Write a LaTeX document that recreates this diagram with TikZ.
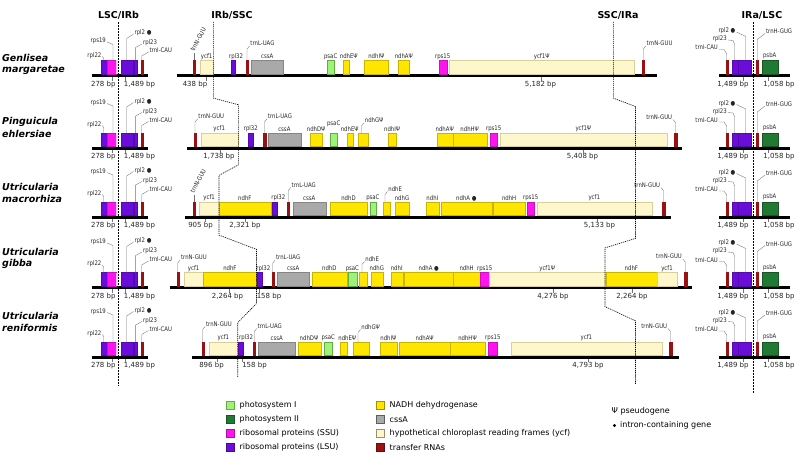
\documentclass[tikz,border=0pt]{standalone}
\usepackage{fontspec}
\setmainfont{DejaVu Sans}[BoldFont={DejaVu Sans Bold},ItalicFont={DejaVu Sans Oblique},BoldItalicFont={DejaVu Sans Bold Oblique}]
\newfontfamily\glabfont{DejaVu Sans}[FakeStretch=0.85]
\definecolor{cPSI}{HTML}{A0F07C}
\definecolor{cPSIb}{HTML}{5FAE3E}
\definecolor{cPSII}{HTML}{217A33}
\definecolor{cSSU}{HTML}{FF14F0}
\definecolor{cLSU}{HTML}{6A0DD8}
\definecolor{cNADH}{HTML}{FFE600}
\definecolor{cNADHb}{HTML}{C9B400}
\definecolor{cCSS}{HTML}{A9A9A9}
\definecolor{cCSSb}{HTML}{858585}
\definecolor{cYCF}{HTML}{FFF7CC}
\definecolor{cYCFb}{HTML}{D8CF9C}
\definecolor{cTRN}{HTML}{9B1111}
\tikzset{
 chrom/.style={line width=3pt},
 gbx/.style={line width=0.35pt},
 nadh/.style={gbx,fill=cNADH,draw=cNADHb},
 css/.style={gbx,fill=cCSS,draw=cCSSb},
 ycf/.style={gbx,fill=cYCF,draw=cYCFb},
 psi/.style={gbx,fill=cPSI,draw=cPSIb},
 psii/.style={gbx,fill=cPSII,draw=cPSII!70!black},
 ssu/.style={gbx,fill=cSSU,draw=cSSU!80!black},
 lsu/.style={gbx,fill=cLSU,draw=cLSU!80!black},
 trn/.style={gbx,fill=cTRN,draw=cTRN},
 glab/.style={font=\glabfont\fontsize{6.3}{7}\selectfont,inner sep=0.4pt,text=black!85},
 bplab/.style={font=\fontsize{7}{8}\selectfont,inner sep=0.4pt,text=black!85},
 leadln/.style={draw=black!55,line width=0.35pt},
 junc/.style={line width=0.6pt,dash pattern=on 1.2pt off 0.9pt},
 juncB/.style={line width=0.9pt,dash pattern=on 1.8pt off 1.2pt},
 head/.style={font=\fontsize{9.5}{11}\selectfont\bfseries},
 spec/.style={font=\fontsize{9.5}{11}\selectfont\bfseries\itshape,anchor=west,inner sep=0pt},
 legt/.style={font=\fontsize{8}{9.5}\selectfont,anchor=west,inner sep=0.5pt},
 legb/.style={line width=0.5pt},
}
\newcount\nid
\newcommand\nxt{\global\advance\nid by 1 }
% gene box with centred label
\newcommand\gb[5]{%
 \draw[#1] (#2,#4-15) rectangle (#3,#4-1.5);
 \ifx\relax#5\relax\else
 \nxt\node[glab] (n\the\nid) at ({(#2+#3)/2},#4-19) {#5};
 \fi}
% gene box with label at custom height
\newcommand\gbh[6]{%
 \draw[#1] (#2,#4-15) rectangle (#3,#4-1.5);
 \nxt\node[glab] (n\the\nid) at ({(#2+#3)/2},#4-#6) {#5};}
% gene box with label at custom x
\newcommand\gbo[6]{%
 \draw[#1] (#2,#4-15) rectangle (#3,#4-1.5);
 \nxt\node[glab] (n\the\nid) at (#6,#4-19) {#5};}
% leader label, text to the right
\newcommand\ldR[4]{%
 \draw[leadln] (#1,#2-15) -- (#1,#2-#4+3.5) -- (#1+2.5,#2-#4+0.5);
 \nxt\node[glab,anchor=base west] (n\the\nid) at (#1+2.8,#2-#4) {#3};}
% leader label, text to the left
\newcommand\ldL[4]{%
 \draw[leadln] (#1,#2-15) -- (#1,#2-#4+3.5) -- (#1-2.5,#2-#4+0.5);
 \nxt\node[glab,anchor=base east] (n\the\nid) at (#1-2.8,#2-#4) {#3};}
% rotated leader label
\newcommand\ldRot[3]{%
 \draw[leadln] (#1,#2-15) -- (#1,#2-22);
 \nxt\node[glab,anchor=base west,rotate=62] (n\the\nid) at (#1,#2-23) {#3};}
% bp label with tick
\newcommand\bp[4]{%
 \draw[leadln] (#4,#2+1.5) -- (#4,#2+5);
 \nxt\node[bplab] (n\the\nid) at (#1,#2+9) {#3};}
% LSC/IRb column: #1 base, #2 rps19, #3 rpl22, #4 rpl2, #5 rpl23, #6 trnI offsets
\newcommand\LSCcol[6]{%
 \draw[chrom] (91.7,#1) -- (148.3,#1);
 \draw[lsu] (100.7,#1-15) rectangle (106.7,#1-1.5);
 \draw[ssu] (106.7,#1-15) rectangle (116,#1-1.5);
 \fill[cSSU!20] (116,#1-15) rectangle (118,#1-1.5);
 \draw[lsu] (120.7,#1-15) rectangle (133.3,#1-1.5);
 \draw[lsu] (133.9,#1-15) rectangle (137.3,#1-1.5);
 \draw[trn] (140.7,#1-15) rectangle (142.7,#1-1.5);
 \draw[leadln] (113,#1-15) -- (113,#1-#2+2) -- (107,#1-#2-0.5);
 \nxt\node[glab,anchor=base east] (n\the\nid) at (106.5,#1-#2) {rps19};
 \draw[leadln] (103.7,#1-15) -- (103.7,#1-#3+1.5) -- (102.3,#1-#3-0.5);
 \nxt\node[glab,anchor=base east] (n\the\nid) at (102,#1-#3) {rpl22};
 \draw[leadln] (126.7,#1-15) -- (126.7,#1-#4+4) -- (133.5,#1-#4-0.5);
 \nxt\node[glab,anchor=base west] (n\the\nid) at (134,#1-#4) {rpl2 ●};
 \draw[leadln] (135.6,#1-15) -- (135.6,#1-#5+3) -- (142,#1-#5-0.5);
 \nxt\node[glab,anchor=base west] (n\the\nid) at (142.5,#1-#5) {rpl23};
 \draw[leadln] (141.7,#1-15) -- (141.7,#1-#6+3.5) -- (148.5,#1-#6-0.5);
 \nxt\node[glab,anchor=base west] (n\the\nid) at (149,#1-#6) {trnI-CAU};
 \bp{103.3}{#1}{278 bp}{111.7}
 \bp{139.5}{#1}{1,489 bp}{125}}
% IRa/LSC column
\newcommand\IRAcol[1]{%
 \draw[chrom] (719.3,#1) -- (790,#1);
 \draw[trn] (725.7,#1-15) rectangle (727.7,#1-1.5);
 \draw[lsu] (731.7,#1-15) rectangle (737.7,#1-1.5);
 \draw[lsu] (738.3,#1-15) rectangle (751,#1-1.5);
 \draw[trn] (756,#1-15) rectangle (758,#1-1.5);
 \draw[psii] (761.7,#1-15) rectangle (777.7,#1-1.5);
 \draw[leadln] (719,#1-26) -- (724,#1-26) -- (726.7,#1-22) -- (726.7,#1-15);
 \nxt\node[glab,anchor=base east] (n\the\nid) at (718.5,#1-25.5) {trnI-CAU};
 \draw[leadln] (727.8,#1-35.5) -- (733,#1-35) -- (734.7,#1-31) -- (734.7,#1-15);
 \nxt\node[glab,anchor=base east] (n\the\nid) at (727.3,#1-35) {rpl23};
 \draw[leadln] (736.5,#1-43.5) -- (745.7,#1-39) -- (745.7,#1-15);
 \nxt\node[glab,anchor=base east] (n\the\nid) at (736,#1-43) {rpl2 ●};
 \draw[leadln] (765,#1-42) -- (757.3,#1-36) -- (757.3,#1-15);
 \nxt\node[glab,anchor=base west] (n\the\nid) at (765.5,#1-41.5) {trnH-GUG};
 \nxt\node[glab] (n\the\nid) at (769.7,#1-20) {psbA};
 \bp{733}{#1}{1,489 bp}{743}
 \bp{779}{#1}{1,058 bp}{768}}
\begin{document}
\begin{tikzpicture}[x=1pt,y=-1pt]
\useasboundingbox (0,0) rectangle (800,460);
\fill[white] (0,0) rectangle (800,460);
% headers
\node[head] (hA) at (118.5,15) {LSC/IRb};
\node[head] (hB) at (232,15) {IRb/SSC};
\node[head] (hC) at (618,15) {SSC/IRa};
\node[head] (hD) at (762,15) {IRa/LSC};
% species
\node[spec] (s1a) at (2,58) {Genlisea};
\node[spec] (s1b) at (2,70) {margaretae};
\node[spec] (s2a) at (2,122) {Pinguicula};
\node[spec] (s2b) at (2,134) {ehlersiae};
\node[spec] (s3a) at (2,187) {Utricularia};
\node[spec] (s3b) at (2,199) {macrorhiza};
\node[spec] (s4a) at (2,252) {Utricularia};
\node[spec] (s4b) at (2,264) {gibba};
\node[spec] (s5a) at (2,316) {Utricularia};
\node[spec] (s5b) at (2,328) {reniformis};
% junction lines
\draw[juncB] (118.3,22) -- (118.3,386);
\draw[juncB] (753.3,22) -- (753.3,393);
% side columns
\LSCcol{75.5}{33}{18.5}{41}{31}{23}
\LSCcol{148}{44}{22}{45}{35}{26}
\LSCcol{217}{44}{22}{45}{35}{26}
\LSCcol{287.5}{44}{22}{45}{35}{26}
\LSCcol{357}{44}{22}{45}{35}{26}
\IRAcol{75.5}\IRAcol{148}\IRAcol{217}\IRAcol{287.5}\IRAcol{357}
% ---- row 1 Genlisea margaretae
\def\B{75.5}
\draw[chrom] (176.7,\B) -- (656.7,\B);
\gb{trn}{192.7}{195}{\B}{}\ldRot{193.9}{\B}{trnN-GUU}
\gb{ycf}{200}{213.3}{\B}{ycf1}
\gbo{lsu}{230.7}{235}{\B}{rpl32}{236}
\gb{trn}{246}{248}{\B}{}\ldR{247}{\B}{trnL-UAG}{30}
\gb{css}{251}{283.3}{\B}{cssA}
\gb{psi}{327.3}{334}{\B}{psaC}
\gbo{nadh}{343.3}{349.3}{\B}{ndhEΨ}{348.8}
\gb{nadh}{364.3}{388.3}{\B}{ndhIΨ}
\gb{nadh}{398.3}{409.3}{\B}{ndhAΨ}
\gb{ssu}{438.7}{446.7}{\B}{rps15}
\gb{ycf}{449.3}{634}{\B}{ycf1Ψ}
\gb{trn}{642.3}{644.3}{\B}{}\ldR{643.3}{\B}{trnN-GUU}{30}
\bp{195}{\B}{438 bp}{205.7}
\bp{540.5}{\B}{5,182 bp}{541}
% ---- row 2 Pinguicula ehlersiae
\def\B{148}
\draw[chrom] (186.7,\B) -- (681.7,\B);
\gb{trn}{194}{196}{\B}{}\ldR{195}{\B}{trnN-GUU}{29.5}
\gb{ycf}{200.7}{237.7}{\B}{ycf1}
\gb{lsu}{248.3}{253.3}{\B}{rpl32}
\gb{trn}{263.3}{265.7}{\B}{}\ldR{264.5}{\B}{trnL-UAG}{29.5}
\gb{css}{267.7}{301}{\B}{cssA}
\gb{nadh}{310}{322.3}{\B}{ndhDΨ}
\gbh{psi}{330}{337.3}{\B}{psaC}{24}
\gb{nadh}{346.7}{352.7}{\B}{ndhEΨ}
\gb{nadh}{358.3}{367.7}{\B}{}\ldR{361.5}{\B}{ndhGΨ}{25.5}
\gb{nadh}{388.3}{396}{\B}{ndhIΨ}
\gb{nadh}{436.7}{452.7}{\B}{ndhAΨ}
\gb{nadh}{452.7}{486.7}{\B}{ndhHΨ}
\gb{ssu}{490}{497.3}{\B}{rps15}
\gb{ycf}{500}{666.7}{\B}{ycf1Ψ}
\gb{trn}{674.3}{676.7}{\B}{}\ldL{675.5}{\B}{trnN-GUU}{29}
\bp{219}{\B}{1,738 bp}{220}
\bp{582.5}{\B}{5,408 bp}{583}
% ---- row 3 Utricularia macrorhiza
\def\B{217}
\draw[chrom] (185,\B) -- (670.7,\B);
\gb{trn}{192.7}{195}{\B}{}\ldRot{193.9}{\B}{trnN-GUU}
\gb{ycf}{199.3}{219}{\B}{ycf1}
\gb{nadh}{219}{270.7}{\B}{ndhF}
\gbo{lsu}{272.3}{277.3}{\B}{rpl32}{278.3}
\gb{trn}{287.3}{289.3}{\B}{}\ldR{288.3}{\B}{trnL-UAG}{30}
\gb{css}{292.7}{325.7}{\B}{cssA}
\gb{nadh}{330.3}{366.7}{\B}{ndhD}
\gb{psi}{370}{375.7}{\B}{psaC}
\gb{nadh}{382.7}{390}{\B}{}\ldR{385}{\B}{ndhE}{26}
\gb{nadh}{395.3}{408.7}{\B}{ndhG}
\gb{nadh}{426}{438.7}{\B}{ndhI}
\gb{nadh}{441}{491.7}{\B}{ndhA ●}
\gb{nadh}{493.3}{525}{\B}{ndhH}
\gb{ssu}{527.3}{534}{\B}{rps15}
\gb{ycf}{536.7}{651.7}{\B}{ycf1}
\gb{trn}{662.3}{664.7}{\B}{}\ldL{663.5}{\B}{trnN-GUU}{30}
\bp{200.5}{\B}{905 bp}{205}
\bp{245}{\B}{2,321 bp}{245}
\bp{599.5}{\B}{5,133 bp}{596.7}
% ---- row 4 Utricularia gibba
\def\B{287.5}
\draw[chrom] (170,\B) -- (691.7,\B);
\gb{trn}{176.7}{178.7}{\B}{}\ldR{177.7}{\B}{trnN-GUU}{28}
\gb{ycf}{184}{203.3}{\B}{ycf1}
\gb{nadh}{203.3}{256.5}{\B}{ndhF}
\gbo{lsu}{257}{262}{\B}{rpl32}{263.3}
\gb{trn}{271.7}{273.7}{\B}{}\ldR{272.7}{\B}{trnL-UAG}{28}
\gb{css}{277}{309.3}{\B}{cssA}
\gb{nadh}{312}{346.7}{\B}{ndhD}
\gb{psi}{348}{356.7}{\B}{psaC}
\gb{nadh}{359.3}{366.7}{\B}{}\ldR{362}{\B}{ndhE}{26.5}
\gb{nadh}{371}{382.7}{\B}{ndhG}
\gb{nadh}{390.7}{402.7}{\B}{ndhI}
\gb{nadh}{404.3}{453.3}{\B}{ndhA ●}
\gb{nadh}{453.3}{480}{\B}{ndhH}
\gb{ssu}{480}{489.3}{\B}{rps15}
\gb{ycf}{489.3}{605}{\B}{ycf1Ψ}
\gb{nadh}{606}{656.7}{\B}{ndhF}
\gb{ycf}{657.3}{676.7}{\B}{ycf1}
\gb{trn}{684}{686.7}{\B}{}\ldL{685.3}{\B}{trnN-GUU}{29}
\bp{227.5}{\B}{2,264 bp}{229.3}
\bp{269}{\B}{158 bp}{259.3}
\bp{553}{\B}{4,276 bp}{553}
\bp{632}{\B}{2,264 bp}{632}
% ---- row 5 Utricularia reniformis
\def\B{357}
\draw[chrom] (192,\B) -- (679,\B);
\gb{trn}{201.7}{203.7}{\B}{}\ldR{202.7}{\B}{trnN-GUU}{31}
\gb{ycf}{209}{237.7}{\B}{ycf1}
\gbo{lsu}{237.7}{242.7}{\B}{rpl32}{246}
\gb{trn}{253.3}{255.3}{\B}{}\ldR{254.3}{\B}{trnL-UAG}{29}
\gb{css}{258.3}{295}{\B}{cssA}
\gbo{nadh}{298.3}{321}{\B}{ndhDΨ}{309}
\gb{psi}{324.3}{332.3}{\B}{psaC}
\gbo{nadh}{340}{346.7}{\B}{ndhEΨ}{347.3}
\gb{nadh}{353.3}{369.3}{\B}{}\ldR{358}{\B}{ndhGΨ}{28}
\gb{nadh}{380}{396.7}{\B}{ndhIΨ}
\gb{nadh}{399.3}{450}{\B}{ndhAΨ}
\gb{nadh}{450}{485}{\B}{ndhHΨ}
\gb{ssu}{488.3}{497.3}{\B}{rps15}
\gb{ycf}{511}{661.7}{\B}{ycf1}
\gb{trn}{669.3}{671.7}{\B}{}\ldL{670.5}{\B}{trnN-GUU}{29}
\bp{211.5}{\B}{896 bp}{217}
\bp{254.5}{\B}{158 bp}{242}
\bp{588}{\B}{4,793 bp}{588}
% IR/SC junction connectors
\draw[junc] (213.3,22) -- (213.3,98.1) -- (238.3,104.7) -- (238.3,164.9) -- (219,175.4) -- (219,235.1) -- (256.5,249.4) -- (256.5,303.5) -- (237.7,322.6) -- (237.7,377);
\draw[junc] (613.3,22) -- (613.3,98.1) -- (635.5,106.5) -- (635.5,238.4) -- (605,247.9) -- (605,306.6) -- (635.5,320.9) -- (635.5,384);
% legend
\draw[legb,fill=cPSI,draw=cPSIb] (226,401.5) rectangle (234,409.5);
\node[legt] (L1) at (239,405.5) {photosystem I};
\draw[legb,fill=cPSII,draw=cPSII!70!black] (226,415.5) rectangle (234,423.5);
\node[legt] (L2) at (239,419.5) {photosystem II};
\draw[legb,fill=cSSU,draw=cSSU!70!black] (226,429.5) rectangle (234,437.5);
\node[legt] (L3) at (239,433.5) {ribosomal proteins (SSU)};
\draw[legb,fill=cLSU,draw=cLSU!70!black] (226,443.5) rectangle (234,451.5);
\node[legt] (L4) at (239,447.5) {ribosomal proteins (LSU)};
\draw[legb,fill=cNADH,draw=cNADHb!80!black] (376,401.5) rectangle (384,409.5);
\node[legt] (L5) at (389,405.5) {NADH dehydrogenase};
\draw[legb,fill=cCSS,draw=cCSSb!70!black] (376,415.5) rectangle (384,423.5);
\node[legt] (L6) at (389,419.5) {cssA};
\draw[legb,fill=cYCF,draw=cYCFb!70!black] (376,429.5) rectangle (384,437.5);
\node[legt] (L7) at (389,433.5) {hypothetical chloroplast reading frames (ycf)};
\draw[legb,fill=cTRN,draw=cTRN!70!black] (376,443.5) rectangle (384,451.5);
\node[legt] (L8) at (389,447.5) {transfer RNAs};
\node[legt] (L9) at (611,411.5) {Ψ pseudogene};
\fill (614.5,425.5) circle (1.6pt);
\node[legt] (L10) at (619.5,425.5) {intron-containing gene};
\end{tikzpicture}
\end{document}
